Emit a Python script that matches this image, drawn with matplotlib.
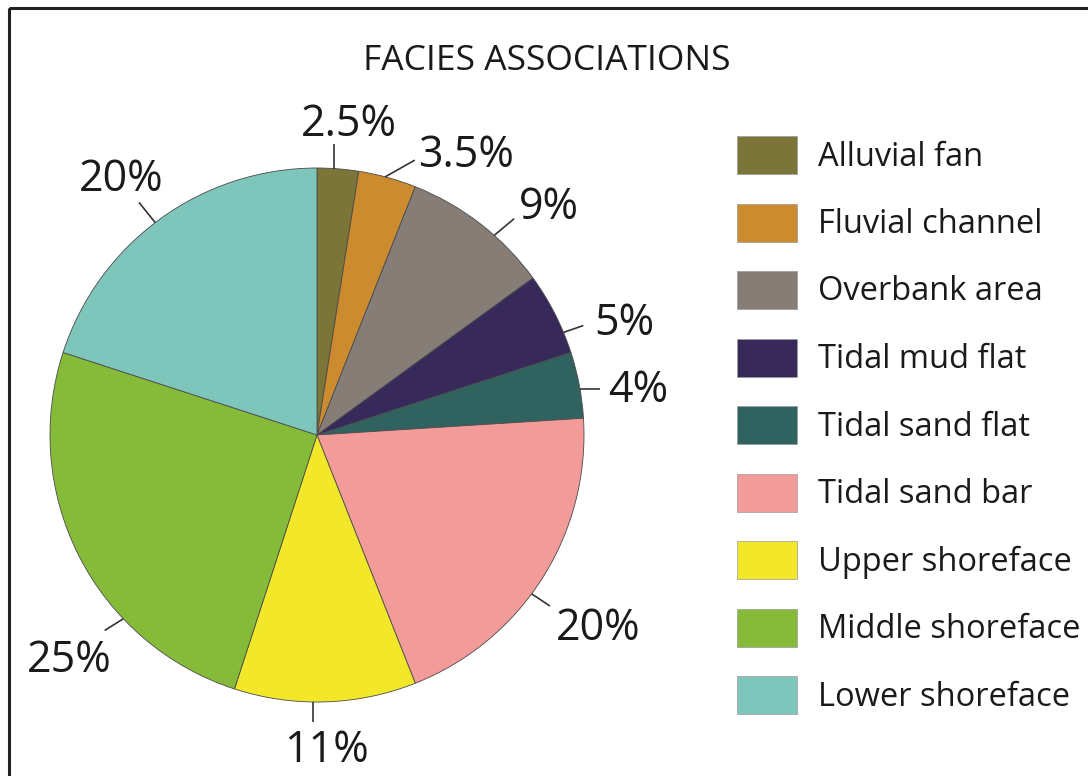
import matplotlib.pyplot as plt
import numpy as np
from matplotlib.patches import Rectangle

# Facies association shares (%)
facies = ['Alluvial fan', 'Fluvial channel', 'Overbank area', 'Tidal mud flat',
          'Tidal sand flat', 'Tidal sand bar', 'Upper shoreface',
          'Middle shoreface', 'Lower shoreface']
shares = [2.5, 3.5, 9, 5, 4, 20, 11, 25, 20]
colors = ['#7b7537', '#cb8b2e', '#857d76', '#372a5b', '#30635f',
          '#f29b99', '#f2e829', '#86bb3a', '#7ec6bb']

# label leader layout: (angle shift from wedge middle, leader direction,
# leader length, text dx, text dy, ha)
leaders = [
    (0.8, 90, 25, 15, -19, 'center'),
    (0.5, 29.5, 34, 3, -4, 'left'),
    (-3.8, 40, 26, 5, -11, 'left'),
    (-4.4, 19, 21, 11, -2, 'left'),
    (-0.8, 0, 20, 8, 2, 'left'),
    (-4.1, -33.7, 22, 6, 23, 'left'),
    (-2.7, -90, 20, 14, 29, 'center'),
    (16.5, 212, 22, -35, 30, 'center'),
    (1.3, 128.7, 26, -18, -23, 'center'),
]

plt.rcParams['font.family'] = ['Open Sans', 'DejaVu Sans']
txt_color = '#1a1a1a'

W, H = 1088, 776
fig = plt.figure(figsize=(W / 100, H / 100), dpi=100)
ax = fig.add_axes([0, 0, 1, 1])

cx, cy, R = 317, 435, 267

# y axis runs downward, so counterclock with start at -90 goes clockwise from the top
ax.pie(shares, colors=colors, startangle=-90, counterclock=True,
       center=(cx, cy), radius=R,
       wedgeprops=dict(edgecolor='#4a4a4a', linewidth=0.6))

ax.set_xlim(0, W)
ax.set_ylim(H, 0)
ax.set_aspect('equal')
ax.axis('off')

# percentage labels with short leader lines
cum = np.cumsum([0] + shares[:-1])
for val, c0, (shift, ldir, llen, tdx, tdy, ha) in zip(shares, cum, leaders):
    a = np.radians(90 - (c0 + val / 2) * 3.6 + shift)
    x0, y0 = cx + R * np.cos(a), cy - R * np.sin(a)
    d = np.radians(ldir)
    x1, y1 = x0 + llen * np.cos(d), y0 - llen * np.sin(d)
    ax.plot([x0, x1], [y0, y1], color='#333333', lw=1.2, solid_capstyle='butt')
    lab = f'{val:g}%'
    ax.text(x1 + tdx, y1 + tdy, lab, fontsize=31, color=txt_color,
            ha=ha, va='center')

ax.text(547, 61, 'FACIES ASSOCIATIONS', fontsize=25.5, color=txt_color,
        ha='center', va='center')

# legend boxes
for i, (name, col) in enumerate(zip(facies, colors)):
    yc = 155 + i * 67.5
    ax.add_patch(Rectangle((737, yc - 19), 60, 38, facecolor=col,
                           edgecolor='#9a9a9a', lw=0.5))
    ax.text(818, yc + 2, name, fontsize=23.5, color=txt_color,
            ha='left', va='center')

# outer frame (open on the right and bottom edges)
ax.add_patch(Rectangle((9, 8), 1200, 1000, fill=False, edgecolor='#222222',
                       lw=2.2, clip_on=True))

fig.savefig('out.png', dpi=100, facecolor='white')
